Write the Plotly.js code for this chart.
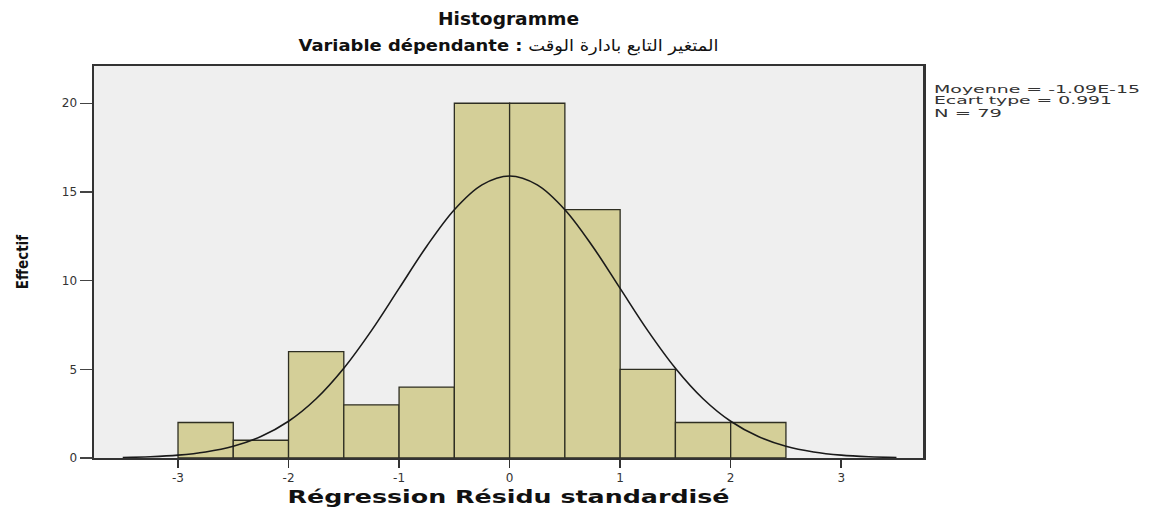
<!DOCTYPE html>
<html><head><meta charset="utf-8">
<script src="https://cdn.plot.ly/plotly-3.0.1.min.js"></script>
<style>html,body{margin:0;padding:0;background:#fff}#chart{width:1149px;height:509px}</style>
</head><body><div id="chart"></div>
<script>
// Histogram bins (width 0.5) and counts
const binCenters = [-2.75, -2.25, -1.75, -1.25, -0.75, -0.25, 0.25, 0.75, 1.25, 1.75, 2.25];
const counts = [2, 1, 6, 3, 4, 20, 20, 14, 5, 2, 2];
const binWidth = 0.5;

// Normal curve points
const curveX = [-3.5, -3.25, -3, -2.75, -2.5, -2.25, -2, -1.75, -1.5, -1.25, -1, -0.75, -0.5, -0.25, 0,
                0.25, 0.5, 0.75, 1, 1.25, 1.5, 1.75, 2, 2.25, 2.5, 2.75, 3, 3.25, 3.5];
const curveY = [0.03, 0.07, 0.16, 0.34, 0.66, 1.21, 2.07, 3.34, 5.06, 7.18, 9.56, 11.94, 14.0, 15.4, 15.9,
                15.4, 14.0, 11.94, 9.56, 7.18, 5.06, 3.34, 2.07, 1.21, 0.66, 0.34, 0.16, 0.07, 0.03];

const xTicks = [-3, -2, -1, 0, 1, 2, 3];
const yTicks = [0, 5, 10, 15, 20];
const statsLines = ["Moyenne = -1.09E-15", "Ecart type = 0.991", "N = 79"];

const titleText = "Histogramme";
const subtitleText = "<b>Variable dépendante :</b> المتغير التابع بادارة الوقت";
const xTitle = "Régression Résidu standardisé";
const yTitle = "Effectif";

const traces = [
  {
    type: 'bar', x: binCenters, y: counts, width: binWidth,
    marker: {color: '#d4cf98', line: {color: '#2e2e22', width: 1.3}},
    hoverinfo: 'x+y', showlegend: false
  },
  {
    type: 'scatter', mode: 'lines', x: curveX, y: curveY,
    line: {color: '#1a1a1a', width: 1.6, shape: 'spline', smoothing: 1},
    hoverinfo: 'skip', showlegend: false
  }
];

const statsY = [0.941, 0.911, 0.880];
const annotations = [
  {text: subtitleText, xref: 'paper', yref: 'paper', x: 0.5, y: 1.051, xanchor: 'center', yanchor: 'middle',
   showarrow: false, font: {family: 'DejaVu Sans', size: 16, color: '#111'}}
].concat(statsLines.map((t, i) => ({
  text: t, xref: 'paper', yref: 'paper', x: 1.0109, y: statsY[i], xanchor: 'left', yanchor: 'middle',
  showarrow: false, font: {family: 'DejaVu Sans', size: 10, color: '#333'}
})));

const layout = {
  width: 1149, height: 509,
  margin: {l: 94, r: 226, t: 66, b: 51},
  paper_bgcolor: '#ffffff', plot_bgcolor: '#efefef',
  bargap: 0,
  title: {text: titleText, x: 0.5, xref: 'paper', y: 1 - 19 / 509, yref: 'container', yanchor: 'middle', xanchor: 'center',
          font: {family: 'DejaVu Sans', size: 17, weight: 'bold', color: '#111'}},
  xaxis: {
    range: [-3.76, 3.74], tickvals: xTicks, ticktext: xTicks.map(String),
    ticks: 'outside', ticklen: 8, tickwidth: 1.5, tickcolor: '#333',
    showline: true, linecolor: '#333', linewidth: 2, mirror: true,
    showgrid: false, zeroline: false,
    tickfont: {family: 'DejaVu Sans', size: 12, color: '#333'},
    title: {text: xTitle, standoff: 7, font: {family: 'DejaVu Sans', size: 17, weight: 'bold', color: '#111'}}
  },
  yaxis: {
    range: [0, 22.1], tickvals: yTicks, ticktext: yTicks.map(String),
    ticks: 'outside', ticklen: 12, tickwidth: 1.5, tickcolor: '#444',
    showline: true, linecolor: '#333', linewidth: 2.5, mirror: true,
    showgrid: false, zeroline: false,
    tickfont: {family: 'DejaVu Sans', size: 12, color: '#333'},
    title: {text: yTitle, standoff: 30, font: {family: 'DejaVu Sans Condensed, DejaVu Sans', size: 15, weight: 'bold', color: '#111'}}
  },
  annotations: annotations
};

Plotly.newPlot('chart', traces, layout, {displayModeBar: false, staticPlot: true}).then(function (gd) {
  function stretch(el, len, fromLeft) {
    if (!el) return;
    if (fromLeft) {
      const b = el.getBBox();
      el.setAttribute('x', b.x);
      el.style.textAnchor = 'start';
      el.setAttribute('text-anchor', 'start');
    }
    el.setAttribute('textLength', len);
    el.setAttribute('lengthAdjust', 'spacingAndGlyphs');
  }
  stretch(gd.querySelector('.xtitle'), 442, false);
  stretch(gd.querySelector('.gtitle'), 141, false);
  const ann = gd.querySelectorAll('.annotation-text');
  stretch(ann[0], 420, false);
  const statLens = [206, 178, 68];
  for (let i = 0; i < statLens.length; i++) stretch(ann[i + 1], statLens[i], true);
});
</script>
</body></html>
